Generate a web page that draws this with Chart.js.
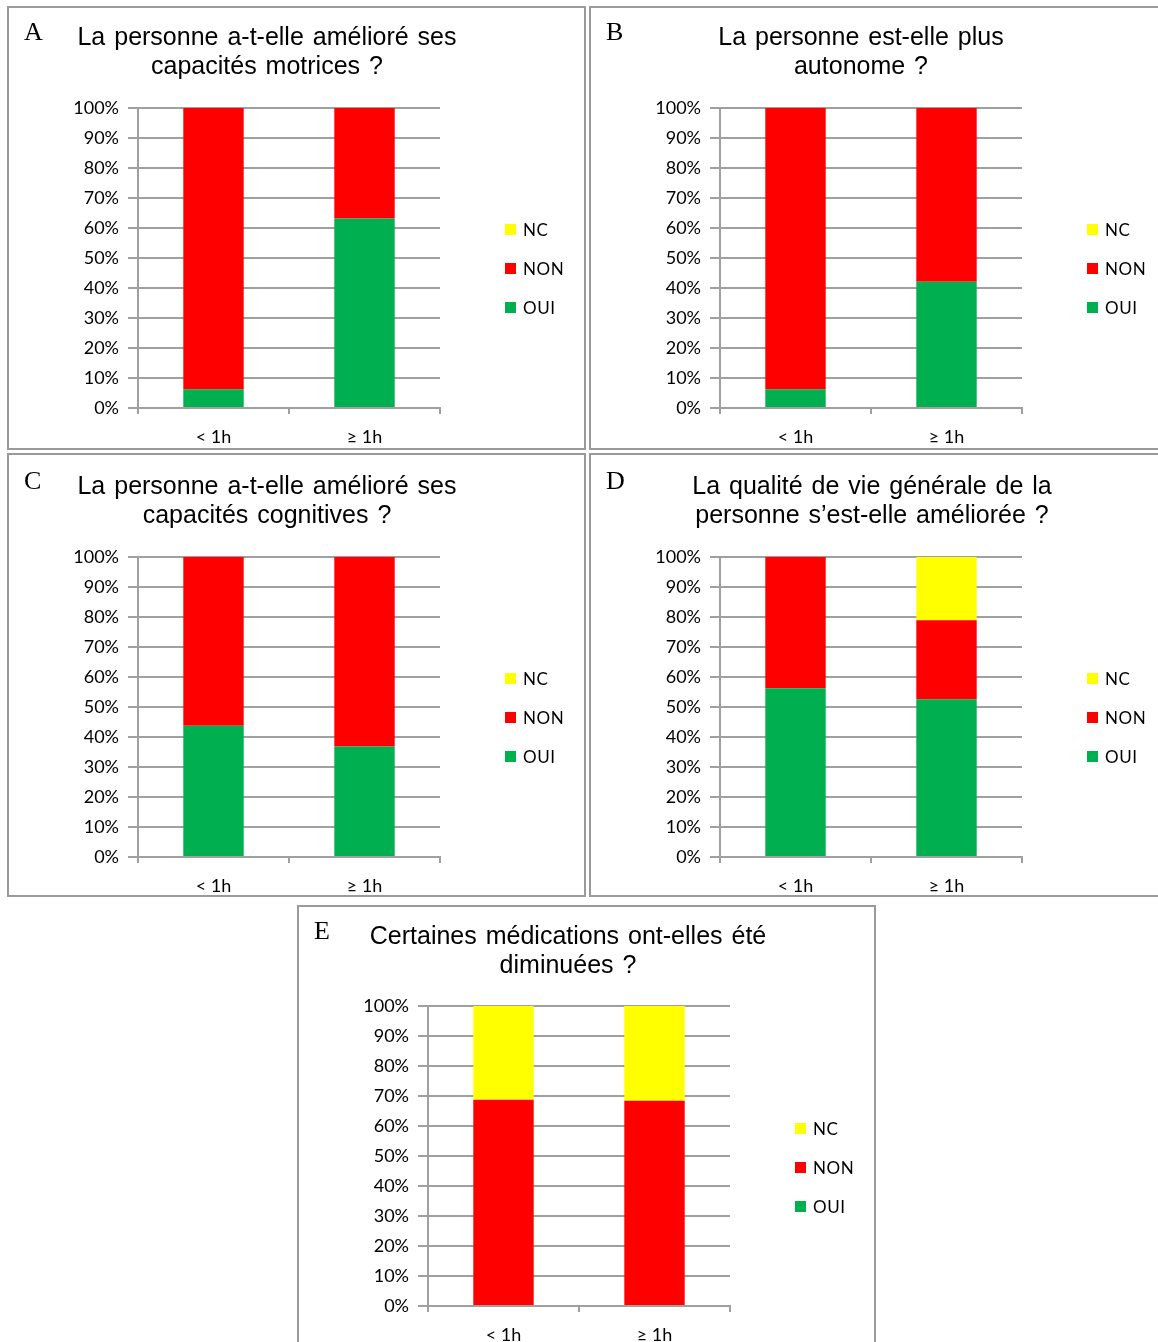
<!DOCTYPE html>
<html lang="fr">
<head>
<meta charset="utf-8">
<title>Effets selon la durée</title>
<script src="https://cdn.jsdelivr.net/npm/chart.js@4.4.1/dist/chart.umd.min.js"></script>
<style>
  html, body { margin: 0; padding: 0; background: #fff; }
  body { width: 1158px; height: 1342px; position: relative; overflow: hidden; }
  .panel { position: absolute; width: 579px; height: 444px; }
  .frame { position: absolute; left: 0; top: 0; right: 0; bottom: 0; border: 2px solid #9a9a9a; box-sizing: border-box; }
  .panel canvas { position: absolute; left: 0; top: 0; }
  .letter { position: absolute; font-family: "Liberation Serif", "DejaVu Serif", serif; font-size: 26px; line-height: 26px; color: #000; }
  .title { position: absolute; width: 540px; text-align: center; font-family: "Liberation Sans", Arial, sans-serif; font-size: 25px; line-height: 29px; color: #000; white-space: nowrap; word-spacing: 2px; }
  .legend { position: absolute; font-family: Lato, "Open Sans", sans-serif; font-size: 17px; color: #000; }
  .legend .item { position: absolute; left: 0; height: 20px; white-space: nowrap; }
  .legend .sw { position: absolute; left: 0; top: 4px; width: 11px; height: 11px; }
  .legend .tx { position: absolute; left: 18px; top: 0; line-height: 20px; letter-spacing: 0.6px; }
</style>
</head>
<body>
<script>
// Categories and series
const categories = ['< 1h', '\u2265 1h'];
const seriesNames = ['OUI', 'NON', 'NC'];
const seriesColors = ['#00b050', '#ff0000', '#ffff00'];
const yTickValues = [0, 10, 20, 30, 40, 50, 60, 70, 80, 90, 100];

// A - capacités motrices
const ouiA = [6.25, 63.2];
const nonA = [93.75, 36.8];
const ncA = [0, 0];
// B - autonomie
const ouiB = [6.25, 42.1];
const nonB = [93.75, 57.9];
const ncB = [0, 0];
// C - capacités cognitives
const ouiC = [43.75, 36.8];
const nonC = [56.25, 63.2];
const ncC = [0, 0];
// D - qualité de vie
const ouiD = [56.25, 52.6];
const nonD = [43.75, 26.3];
const ncD = [0, 21.1];
// E - médications
const ouiE = [0, 0];
const nonE = [68.75, 68.4];
const ncE = [31.25, 31.6];

const titleA = ['La personne a-t-elle amélioré ses', 'capacités motrices ?'];
const titleB = ['La personne est-elle plus', 'autonome ?'];
const titleC = ['La personne a-t-elle amélioré ses', 'capacités cognitives ?'];
const titleD = ['La qualité de vie générale de la', 'personne s\u2019est-elle améliorée ?'];
const titleE = ['Certaines médications ont-elles été', 'diminuées ?'];

// Panel placement on the page
const panels = [
  { letter: 'A', title: titleA, series: [ouiA, nonA, ncA], left: 7,   top: 6,   titleX: 260, dy: 0, plotDy: 0 },
  { letter: 'B', title: titleB, series: [ouiB, nonB, ncB], left: 589, top: 6,   titleX: 272, dy: 0, plotDy: 0 },
  { letter: 'C', title: titleC, series: [ouiC, nonC, ncC], left: 7,   top: 453, titleX: 260, dy: 2, plotDy: 2 },
  { letter: 'D', title: titleD, series: [ouiD, nonD, ncD], left: 589, top: 453, titleX: 283, dy: 2, plotDy: 2 },
  { letter: 'E', title: titleE, series: [ouiE, nonE, ncE], left: 297, top: 905, titleX: 271, dy: 0, plotDy: -1 }
];

const W = 579, H = 444;
const gridColor = '#a0a0a0';
const tickFont = { family: 'Lato, "Open Sans", sans-serif', size: 18 };

panels.forEach(p => {
  const div = document.createElement('div');
  div.className = 'panel';
  div.style.left = p.left + 'px';
  div.style.top = p.top + 'px';
  document.body.appendChild(div);

  const canvas = document.createElement('canvas');
  canvas.width = W; canvas.height = H;
  canvas.style.width = W + 'px'; canvas.style.height = H + 'px';
  div.appendChild(canvas);

  const frame = document.createElement('div');
  frame.className = 'frame';
  div.appendChild(frame);

  const letter = document.createElement('div');
  letter.className = 'letter';
  letter.style.left = '17px';
  letter.style.top = (13 + p.dy) + 'px';
  letter.textContent = p.letter;
  div.appendChild(letter);

  const title = document.createElement('div');
  title.className = 'title';
  title.style.left = (p.titleX - 270) + 'px';
  title.style.top = (16 + p.dy) + 'px';
  title.innerHTML = p.title.map(t => t.replace(/&/g, '&amp;').replace(/</g, '&lt;')).join('<br>');
  div.appendChild(title);

  // Legend, top entry first (reverse of stacking order)
  const legend = document.createElement('div');
  legend.className = 'legend';
  legend.style.left = '498px';
  legend.style.top = (214 + p.dy) + 'px';
  [2, 1, 0].forEach((si, row) => {
    const item = document.createElement('div');
    item.className = 'item';
    item.style.top = (row * 39) + 'px';
    const sw = document.createElement('span');
    sw.className = 'sw';
    sw.style.background = seriesColors[si];
    const tx = document.createElement('span');
    tx.className = 'tx';
    tx.textContent = seriesNames[si];
    item.appendChild(sw); item.appendChild(tx);
    legend.appendChild(item);
  });
  div.appendChild(legend);

  new Chart(canvas, {
    type: 'bar',
    data: {
      labels: categories,
      datasets: seriesNames.map((name, i) => ({
        label: name,
        data: p.series[i],
        backgroundColor: seriesColors[i],
        borderWidth: 0,
        barPercentage: 0.4,
        categoryPercentage: 1.0
      }))
    },
    options: {
      responsive: false,
      animation: false,
      devicePixelRatio: 1,
      layout: { padding: { left: 0, right: 146, top: 102 + p.plotDy, bottom: 2 - p.plotDy } },
      plugins: { legend: { display: false }, title: { display: false }, tooltip: { enabled: false } },
      scales: {
        x: {
          stacked: true,
          offset: true,
          afterFit: s => { s.height = 40; },
          grid: { display: true, offset: true, drawOnChartArea: false, drawTicks: true, tickLength: 6, color: gridColor, lineWidth: 2 },
          border: { display: true, color: gridColor, width: 2 },
          ticks: { color: '#000', font: tickFont, padding: 12, maxRotation: 0 }
        },
        y: {
          stacked: true,
          min: 0,
          max: 100,
          afterFit: s => { s.width = 131; },
          afterBuildTicks: s => { s.ticks = yTickValues.map(v => ({ value: v })); },
          grid: { color: gridColor, lineWidth: 2, drawTicks: true, tickLength: 10 },
          border: { display: true, color: gridColor, width: 2 },
          ticks: { color: '#000', font: tickFont, padding: 9, callback: v => v + '%' }
        }
      }
    }
  });
});
</script>
</body>
</html>
